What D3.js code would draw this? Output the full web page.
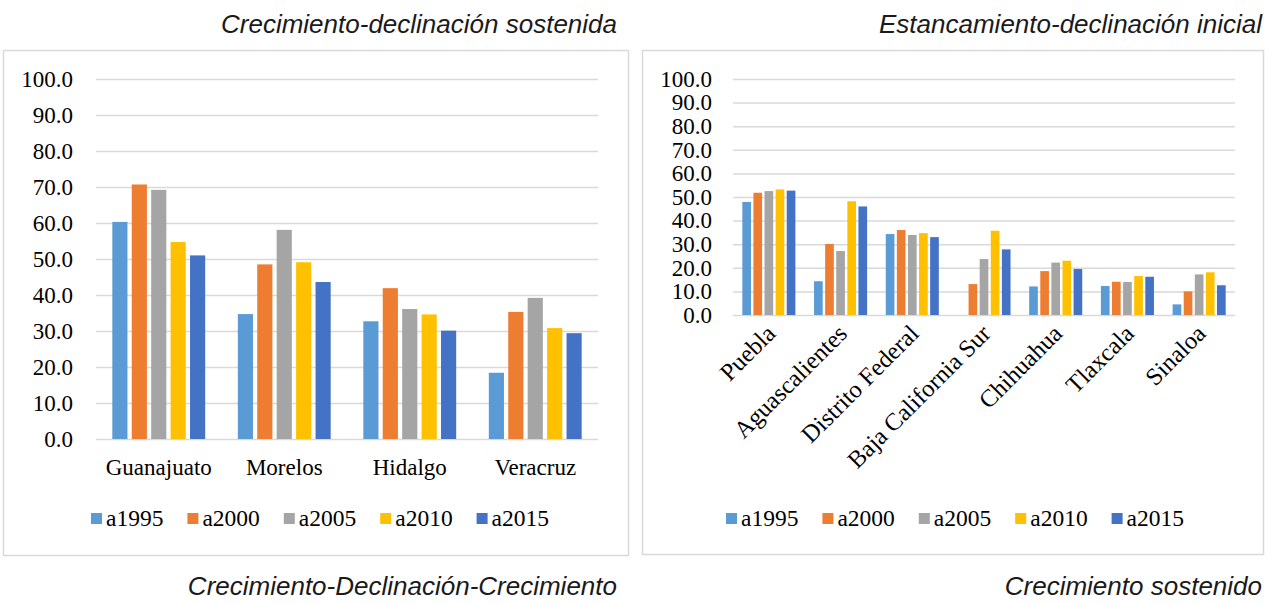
<!DOCTYPE html>
<html lang="es">
<head>
    <meta charset="UTF-8">
    <title>Crecimiento y declinación</title>
    <script src="https://cdn.jsdelivr.net/npm/d3@7/dist/d3.min.js"></script>
    <style>
        body { margin: 0; background: #fff; }
        svg { display: block; }
        .tick text { font-family: "Liberation Serif", "Times New Roman", serif; fill: #000; }
    </style>
</head>
<body>
    <div id="chart"></div>

    <script>
        // Series and labels
        const years = ["a1995", "a2000", "a2005", "a2010", "a2015"];
        const colors = ["#5B9BD5", "#ED7D31", "#A5A5A5", "#FFC000", "#4472C4"];
        const yTicks = [0, 10, 20, 30, 40, 50, 60, 70, 80, 90, 100];

        // Left panel
        const leftStates = ["Guanajuato", "Morelos", "Hidalgo", "Veracruz"];
        const left1995 = [60.3, 34.7, 32.7, 18.4];
        const left2000 = [70.7, 48.5, 41.9, 35.3];
        const left2005 = [69.2, 58.1, 36.1, 39.2];
        const left2010 = [54.7, 49.1, 34.6, 30.8];
        const left2015 = [51.0, 43.6, 30.1, 29.4];

        // Right panel
        const rightStates = ["Puebla", "Aguascalientes", "Distrito Federal", "Baja California Sur",
                             "Chihuahua", "Tlaxcala", "Sinaloa"];
        const right1995 = [47.9, 14.3, 34.3, null, 12.1, 12.3, 4.5];
        const right2000 = [51.8, 30.1, 36.0, 13.1, 18.6, 14.1, 10.0];
        const right2005 = [52.5, 27.1, 33.9, 23.7, 22.2, 14.0, 17.2];
        const right2010 = [53.2, 48.2, 34.7, 35.7, 23.0, 16.5, 18.1];
        const right2015 = [52.7, 46.0, 33.0, 27.8, 19.5, 16.2, 12.6];

        const titles = {
            topLeft: "Crecimiento-declinación sostenida",
            topRight: "Estancamiento-declinación inicial",
            bottomLeft: "Crecimiento-Declinación-Crecimiento",
            bottomRight: "Crecimiento sostenido"
        };

        const svg = d3.select("#chart")
            .append("svg")
            .attr("width", 1280)
            .attr("height", 604);

        function drawPanel(opts) {
            const g = svg.append("g");

            // frame
            g.append("rect")
                .attr("x", opts.box[0] + 0.5)
                .attr("y", opts.box[1] + 0.5)
                .attr("width", opts.box[2])
                .attr("height", opts.box[3])
                .attr("fill", "#fff")
                .attr("stroke", "#d9d9d9")
                .attr("stroke-width", 1.5);

            const x0 = d3.scaleBand()
                .domain(opts.states)
                .range(opts.xRange)
                .paddingInner(0.26)
                .paddingOuter(0.13);

            const x1 = d3.scaleBand()
                .domain(years)
                .range([0, x0.bandwidth()])
                .paddingInner(0.22);

            const y = d3.scaleLinear()
                .domain([0, 100])
                .range(opts.yRange);

            const width = opts.xRange[1] - opts.xRange[0];

            // y axis with gridlines
            const yAxis = g.append("g")
                .attr("transform", `translate(${opts.xRange[0]},0)`)
                .call(d3.axisLeft(y)
                    .tickValues(yTicks)
                    .tickFormat(d3.format(".1f"))
                    .tickSize(-width)
                    .tickPadding(opts.yPad));
            yAxis.select(".domain").remove();
            yAxis.selectAll("line")
                .attr("stroke", "#d9d9d9")
                .attr("stroke-width", 1.5);
            yAxis.selectAll("text")
                .style("font-size", "23px");

            // bars
            const groups = g.selectAll(".state")
                .data(opts.states)
                .enter()
                .append("g")
                .attr("transform", d => `translate(${x0(d)},0)`);

            groups.selectAll("rect")
                .data((d, i) => years.map((yr, k) => ({ yr: yr, k: k, v: opts.series[k][i] })))
                .enter()
                .filter(d => d.v !== null)
                .append("rect")
                .attr("x", d => x1(d.yr))
                .attr("y", d => y(d.v))
                .attr("width", x1.bandwidth())
                .attr("height", d => y(0) - y(d.v))
                .attr("fill", d => colors[d.k]);

            // x axis
            const xAxis = g.append("g")
                .attr("transform", `translate(0,${opts.yRange[0]})`)
                .call(d3.axisBottom(x0).tickSize(0).tickPadding(20));
            xAxis.select(".domain").remove();
            xAxis.selectAll("text")
                .style("font-size", "23px");

            if (opts.rotate) {
                xAxis.selectAll("text")
                    .attr("x", 0)
                    .attr("y", 0)
                    .attr("dy", 0)
                    .attr("transform", "translate(8,20) rotate(-45)")
                    .style("text-anchor", "end")
                    .style("font-size", "24.5px");
            }

            // legend
            const legend = g.append("g")
                .attr("transform", `translate(${opts.legendX},513)`);
            const item = legend.selectAll("g")
                .data(years)
                .enter()
                .append("g")
                .attr("transform", (d, i) => `translate(${i * 96.4},0)`);
            item.append("rect")
                .attr("width", 11)
                .attr("height", 11)
                .attr("fill", (d, i) => colors[i]);
            item.append("text")
                .attr("x", 15)
                .attr("y", 13)
                .style("font-family", '"Liberation Serif", "Times New Roman", serif')
                .style("font-size", "23.5px")
                .text(d => d);
        }

        drawPanel({
            box: [3, 50, 625, 505],
            states: leftStates,
            series: [left1995, left2000, left2005, left2010, left2015],
            xRange: [96, 598],
            yRange: [439, 79],
            yPad: 23,
            legendX: 91,
            rotate: false
        });

        drawPanel({
            box: [642, 50, 621, 504],
            states: rightStates,
            series: [right1995, right2000, right2005, right2010, right2015],
            xRange: [733, 1235],
            yRange: [315, 79],
            yPad: 21,
            legendX: 726,
            rotate: true
        });

        // panel captions
        const caption = svg.append("g")
            .style("font-family", '"Liberation Sans", Arial, sans-serif')
            .style("font-style", "italic")
            .style("font-size", "26px")
            .attr("fill", "#1a1a1a")
            .attr("text-anchor", "end");
        caption.append("text").attr("x", 617).attr("y", 33).text(titles.topLeft);
        caption.append("text").attr("x", 1262).attr("y", 33).text(titles.topRight);
        caption.append("text").attr("x", 617).attr("y", 595).text(titles.bottomLeft);
        caption.append("text").attr("x", 1262).attr("y", 595).text(titles.bottomRight);
    </script>
</body>
</html>
